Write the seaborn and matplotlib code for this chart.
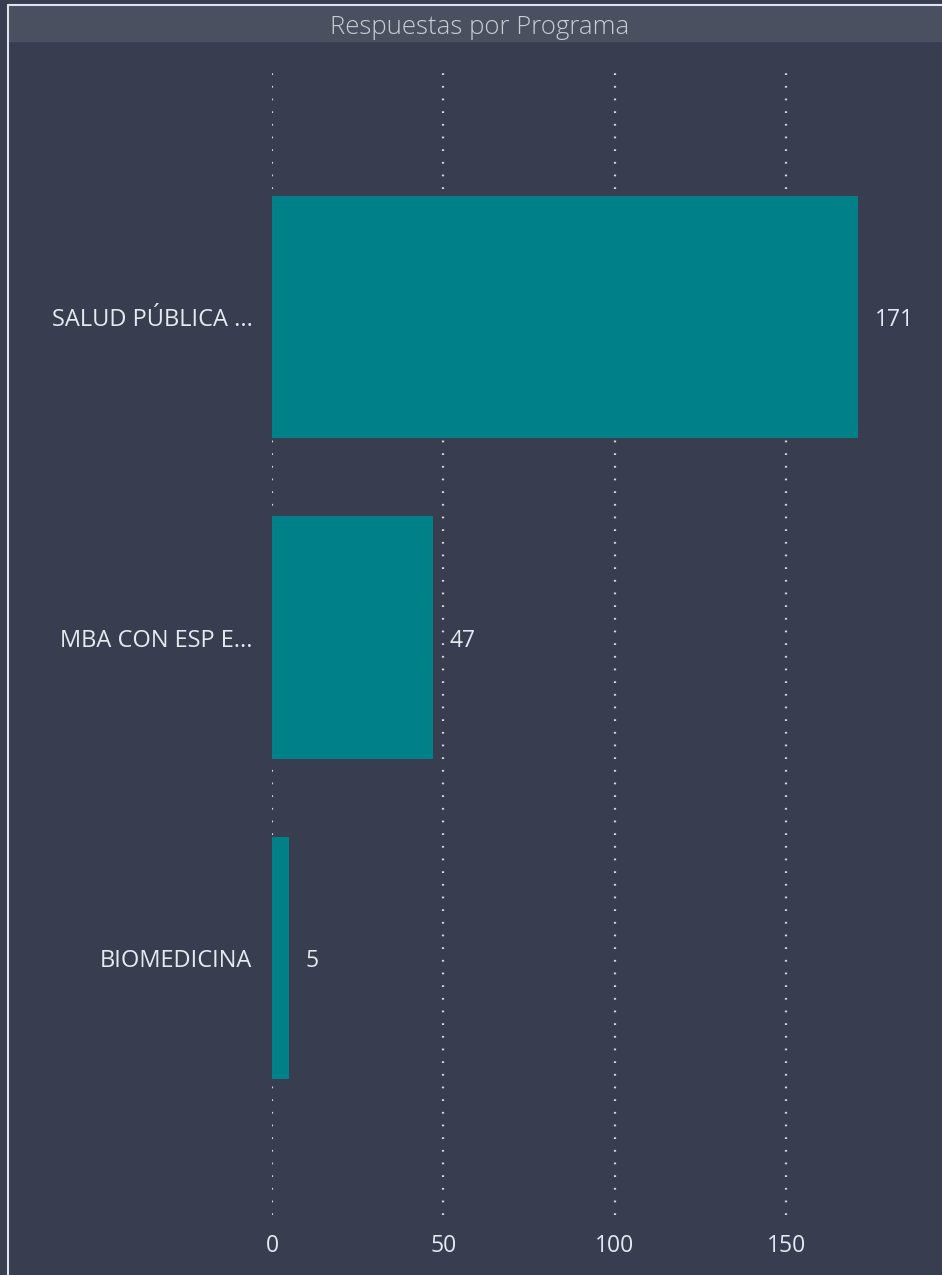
import matplotlib
matplotlib.use("Agg")
import matplotlib.pyplot as plt
import pandas as pd
import seaborn as sns

programas = ["SALUD PÚBLICA ...", "MBA CON ESP E...", "BIOMEDICINA"]
respuestas = [171, 47, 5]
x_ticks = [0, 50, 100, 150]

BG = "#383e4f"
BAND = "#4a5060"
BAR = "#008189"
TXT = "#e4eaf0"

sns.set_style("dark")
plt.rcParams["font.family"] = ["Open Sans", "DejaVu Sans"]

df = pd.DataFrame({"Programa": programas, "Respuestas": respuestas})

fig = plt.figure(figsize=(9.42, 12.75), dpi=100, facecolor=BG)
ax = fig.add_axes([272 / 942, 1 - 1215 / 1275, 1 - 272 / 942, (1215 - 72) / 1275])
ax.set_facecolor(BG)

sns.barplot(data=df, x="Respuestas", y="Programa", color=BAR, width=0.755,
            saturation=1, linewidth=0, ax=ax, zorder=3)

ax.set_xlim(0, 195.5)
ax.set_ylim(2.8, -0.763)
ax.set_xticks(x_ticks)
ax.grid(axis="x", color="#d4d8de", linestyle=(0, (0.8, 4.9)), linewidth=1.6, zorder=1)
ax.grid(axis="y", visible=False)
for s in ax.spines.values():
    s.set_visible(False)
ax.tick_params(axis="both", length=0, colors=TXT, labelsize=16.5)
ax.tick_params(axis="x", pad=14)
ax.tick_params(axis="y", pad=14)
for lbl in ax.get_yticklabels():
    lbl.set_fontsize(17)
    lbl.set_va("center_baseline")
ax.set_xlabel("")
ax.set_ylabel("")

for i, v in enumerate(respuestas):
    ax.annotate(str(v), (v, i), xytext=(12, 0), textcoords="offset points",
                va="center_baseline", ha="left", color=TXT, fontsize=16.5)

# title band and frame
fig.patches.append(plt.Rectangle((8 / 942, 1 - 41 / 1275), 1, 37 / 1275,
                                 transform=fig.transFigure, color=BAND, zorder=0))
fig.lines.append(plt.Line2D([8 / 942, 1], [1 - 4.5 / 1275] * 2, transform=fig.transFigure,
                            color="#dde3ea", linewidth=1.5))
fig.lines.append(plt.Line2D([8 / 942] * 2, [0, 1 - 4.5 / 1275], transform=fig.transFigure,
                            color="#dde3ea", linewidth=1.5))
fig.text(480 / 942, 1 - 28 / 1275, "Respuestas por Programa", ha="center", va="center",
         color="#c9ccd2", fontsize=18.5, fontweight="light")

fig.savefig("out.png", dpi=100, facecolor=BG)
